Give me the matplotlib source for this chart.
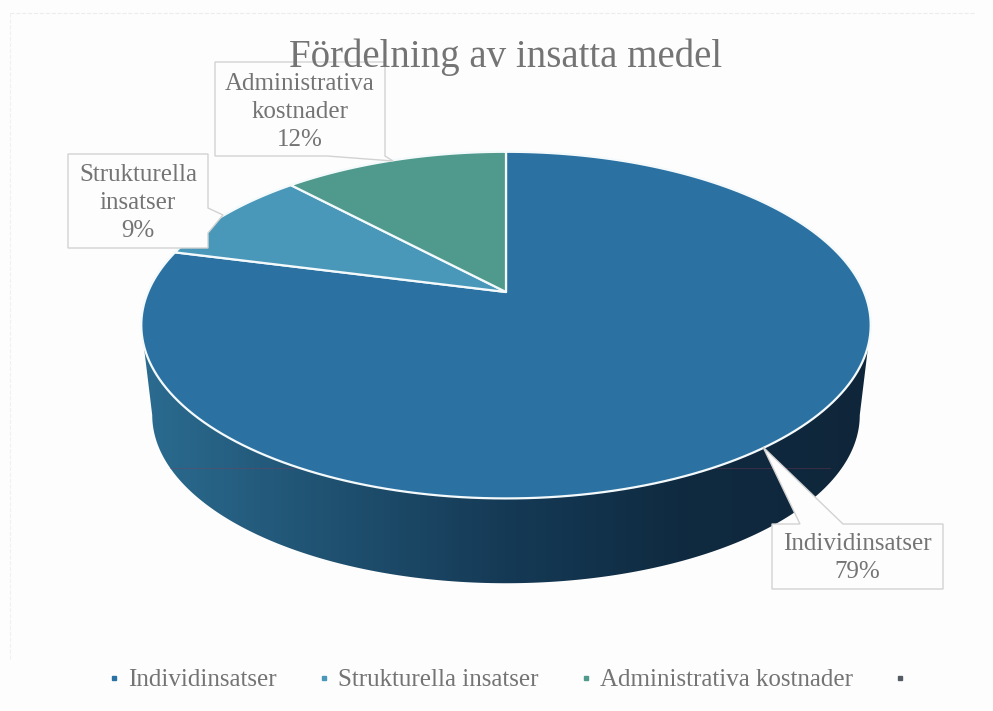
import numpy as np
import matplotlib
matplotlib.use('Agg')
from matplotlib import pyplot as plt
from matplotlib.colors import LinearSegmentedColormap
from matplotlib.lines import Line2D
from matplotlib.patches import Polygon

title = 'Fördelning av insatta medel'
labels = ['Individinsatser', 'Strukturella insatser', 'Administrativa kostnader']
shares = [79, 9, 12]
label_texts = ['Individinsatser\n79%', 'Strukturella\ninsatser\n9%', 'Administrativa\nkostnader\n12%']
colors = ['#2b72a3', '#4a98b9', '#4f9a8c']
extra_color = '#555b63'
text_color = '#747474'
font = 'Liberation Serif'

# Tilted disc: apex at pixel (506, 292), near edge bigger than far edge
APEX_X, APEX_Y = 506, 292
TILT = 0.191
RX, RY = 358, 167


def disc_xy(angle, scale=1.0, drop=0.0):
    # angle is measured clockwise from twelve o'clock, in radians
    x = np.sin(angle)
    y = np.cos(angle)
    w = 1 + TILT * y
    return APEX_X + scale * RX * x / w, APEX_Y - scale * RY * y / w + drop


fig = plt.figure(figsize=(9.93, 7.11), dpi=100, facecolor='#fdfdfd')
ax = fig.add_axes([0, 0, 1, 1])
ax.set_xlim(0, 993)
ax.set_ylim(711, 0)
ax.axis('off')

# faint page edges from the scan
ax.plot([10, 975], [13, 13], color='#ececec', lw=0.8, ls='--')
ax.plot([10, 10], [13, 660], color='#f0f0f0', lw=0.8, ls='--')

# side wall, from the widest point on the right round the front to the left
start = np.pi / 2 + np.arcsin(TILT)
th = np.linspace(start, 2 * np.pi - start, 200)
top_x, top_y = disc_xy(th)
low_x, low_y = disc_xy(th, scale=0.97, drop=91)
wall = Polygon(np.column_stack([np.r_[top_x, low_x[::-1]], np.r_[top_y, low_y[::-1]]]),
               closed=True, transform=ax.transData, facecolor='none', edgecolor='none')
ax.add_patch(wall)
wall_cmap = LinearSegmentedColormap.from_list('wall', ['#2b6c90', '#205272', '#153a56', '#0f2a40', '#10263a'])
grad = ax.imshow(np.linspace(0, 1, 256).reshape(1, -1), cmap=wall_cmap, aspect='auto',
                 extent=[140, 870, 711, 0], zorder=2)
grad.set_clip_path(wall)
ax.set_xlim(0, 993)
ax.set_ylim(711, 0)
ax.plot([170, 830], [468, 468], color='#8a3a55', lw=0.7, alpha=0.35, zorder=2.5)

# top of the pie, clockwise from twelve o'clock
bounds = np.r_[0, np.cumsum(shares)] / sum(shares) * 2 * np.pi
for i, color in enumerate(colors):
    t = np.linspace(bounds[i], bounds[i + 1], 200)
    x, y = disc_xy(t)
    ax.fill(np.r_[APEX_X, x], np.r_[APEX_Y, y], facecolor=color, edgecolor='#f4fafb', lw=1.6, zorder=3,
            joinstyle='round')

# callouts
line_color = '#d2d2d2'
box1 = [(772, 524), (800, 524), (763, 447), (843, 524), (943, 524), (943, 589), (772, 589)]
box2 = [(68, 154), (208, 154), (208, 208), (223, 215), (208, 233), (208, 248), (68, 248)]
box3 = [(215, 62), (385, 62), (385, 156), (393, 161), (327, 156), (215, 156)]
for pts in (box1, box2, box3):
    ax.add_patch(Polygon(pts, closed=True, facecolor='#fdfdfd', edgecolor=line_color, lw=1.0, zorder=5))

ax.text(506, 57, title, ha='center', va='center', fontsize=28, color=text_color, family=font, zorder=6)
lab_pos = [(857, 558), (138, 203), (300, 112)]
for (lx, ly), txt in zip(lab_pos, label_texts):
    ax.text(lx, ly, txt, ha='center', va='center', fontsize=18, color=text_color, family=font,
            linespacing=1.35, zorder=6)

# legend
handles = [Line2D([], [], ls='none', marker='s', ms=3.5, color=c) for c in colors + [extra_color]]
leg = ax.legend(handles, labels + [' '], loc='center', bbox_to_anchor=(514 / 993, 1 - 680 / 711), ncols=4,
                frameon=False, prop={'family': font, 'size': 18}, labelcolor=text_color,
                handlelength=0.5, handletextpad=0.3, columnspacing=1.65)

fig.savefig('out.png', dpi=100, facecolor=fig.get_facecolor())
